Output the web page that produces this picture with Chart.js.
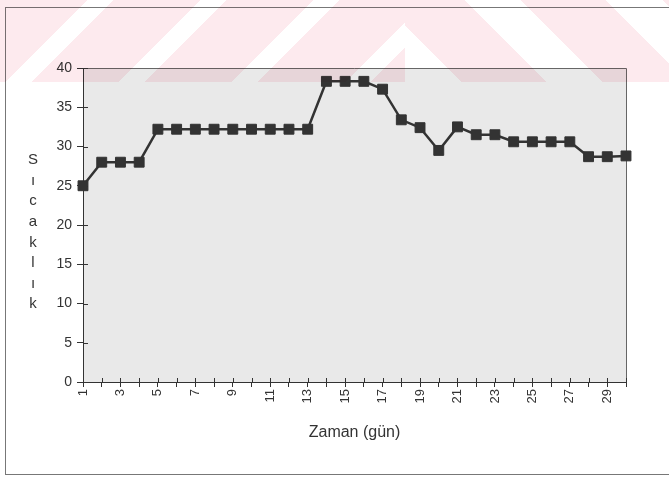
<!DOCTYPE html>
<html>
<head>
<meta charset="utf-8">
<script src="https://cdn.jsdelivr.net/npm/chart.js@4"></script>
<style>
  body { margin: 0; background: #fff; }
  #wrap { position: relative; width: 669px; height: 477px; overflow: hidden; }
  #cerceve { position: absolute; left: 5px; top: 7px; width: 720px; height: 466px; border: 1px solid #777; }
  canvas { position: absolute; left: 0; top: 0; }
  .filigran { position: absolute; top: 0; height: 82px; mix-blend-mode: multiply; pointer-events: none; }
  #fil1 { left: 0; width: 405px; background: repeating-linear-gradient(135deg, #fdeaee 0 62px, #fff 62px 80px); }
  #fil2 { left: 405px; width: 264px; background: repeating-linear-gradient(45deg, #fff 0 40px, #fdeaee 40px 100px); }
</style>
</head>
<body>
<div id="wrap">
  <div id="cerceve"></div>
  <canvas id="grafik" width="669" height="477"></canvas>
  <div class="filigran" id="fil1"></div>
  <div class="filigran" id="fil2"></div>
</div>
<script>
// gün etiketleri ve sıcaklık değerleri
const gunler = ['1','2','3','4','5','6','7','8','9','10','11','12','13','14','15',
                '16','17','18','19','20','21','22','23','24','25','26','27','28','29','30'];
const sicaklik = [25, 28, 28, 28, 32.2, 32.2, 32.2, 32.2, 32.2, 32.2, 32.2, 32.2, 32.2,
                  38.3, 38.3, 38.3, 37.3, 33.4, 32.4, 29.5, 32.5, 31.5, 31.5,
                  30.6, 30.6, 30.6, 30.6, 28.7, 28.7, 28.8];
const yEksenBaslik = ['S', 'ı', 'c', 'a', 'k', 'l', 'ı', 'k'];
const xEksenBaslik = 'Zaman (gün)';

// gri çizim alanı, çerçeve ve içe doğru tik çizgileri
const arkaPlan = {
    id: 'arkaPlan',
    beforeDraw(chart) {
        const { ctx, chartArea: a } = chart;
        ctx.save();
        ctx.fillStyle = '#e9e9e9';
        ctx.fillRect(a.left, a.top, a.right - a.left, a.bottom - a.top);
        ctx.strokeStyle = '#666';
        ctx.lineWidth = 1;
        ctx.beginPath();
        ctx.moveTo(a.left, a.top + 0.5);
        ctx.lineTo(a.right + 0.5, a.top + 0.5);
        ctx.lineTo(a.right + 0.5, a.bottom);
        ctx.stroke();
        ctx.restore();
    },
    beforeDatasetsDraw(chart) {
        const { ctx, chartArea: a, scales } = chart;
        ctx.save();
        ctx.strokeStyle = '#333';
        ctx.lineWidth = 1;
        ctx.beginPath();
        scales.x.ticks.forEach((t, i) => {
            const x = Math.round(scales.x.getPixelForTick(i)) + 0.5;
            ctx.moveTo(x, a.bottom);
            ctx.lineTo(x, a.bottom - 4);
        });
        scales.y.ticks.forEach((t, i) => {
            const y = Math.round(scales.y.getPixelForTick(i)) + 0.5;
            ctx.moveTo(a.left, y);
            ctx.lineTo(a.left + 5, y);
        });
        ctx.stroke();
        ctx.restore();
    },
    afterDraw(chart) {
        const ctx = chart.ctx;
        ctx.save();
        ctx.fillStyle = '#333';
        ctx.font = '15px "Liberation Sans", Arial, sans-serif';
        ctx.textAlign = 'center';
        ctx.textBaseline = 'middle';
        yEksenBaslik.forEach((h, i) => ctx.fillText(h, 33, 160 + i * 20.6));
        ctx.restore();
    }
};

const ctx = document.getElementById('grafik').getContext('2d');
new Chart(ctx, {
    type: 'line',
    data: {
        labels: gunler,
        datasets: [{
            label: 'Sıcaklık',
            data: sicaklik,
            borderColor: '#333',
            backgroundColor: '#333',
            borderWidth: 2.5,
            pointStyle: 'rect',
            pointRadius: 7,
            pointBorderWidth: 1,
            tension: 0
        }]
    },
    options: {
        responsive: false,
        animation: false,
        layout: { padding: { top: 68, right: 43, left: 0, bottom: 0 } },
        plugins: { legend: { display: false }, tooltip: { enabled: false } },
        scales: {
            x: {
                offset: false,
                afterFit: s => { s.height = 95; },
                grid: { drawOnChartArea: false, tickLength: 5, color: '#333' },
                border: { color: '#333', width: 1 },
                ticks: {
                    autoSkip: false,
                    maxRotation: 90,
                    minRotation: 90,
                    padding: 2,
                    color: '#333',
                    font: { family: '"Liberation Sans", Arial, sans-serif', size: 13 },
                    callback: (v, i) => (i % 2 === 0 ? gunler[i] : '')
                },
                title: {
                    display: true,
                    text: xEksenBaslik,
                    color: '#333',
                    font: { family: '"Liberation Sans", Arial, sans-serif', size: 16 },
                    padding: { top: 0, bottom: 35 }
                }
            },
            y: {
                min: 0,
                max: 40,
                afterFit: s => { s.width = 83; },
                grid: { drawOnChartArea: false, tickLength: 6, color: '#333' },
                border: { color: '#333', width: 1 },
                ticks: {
                    stepSize: 5,
                    padding: 5,
                    color: '#333',
                    font: { family: '"Liberation Sans", Arial, sans-serif', size: 14 }
                }
            }
        }
    },
    plugins: [arkaPlan]
});
</script>
</body>
</html>
